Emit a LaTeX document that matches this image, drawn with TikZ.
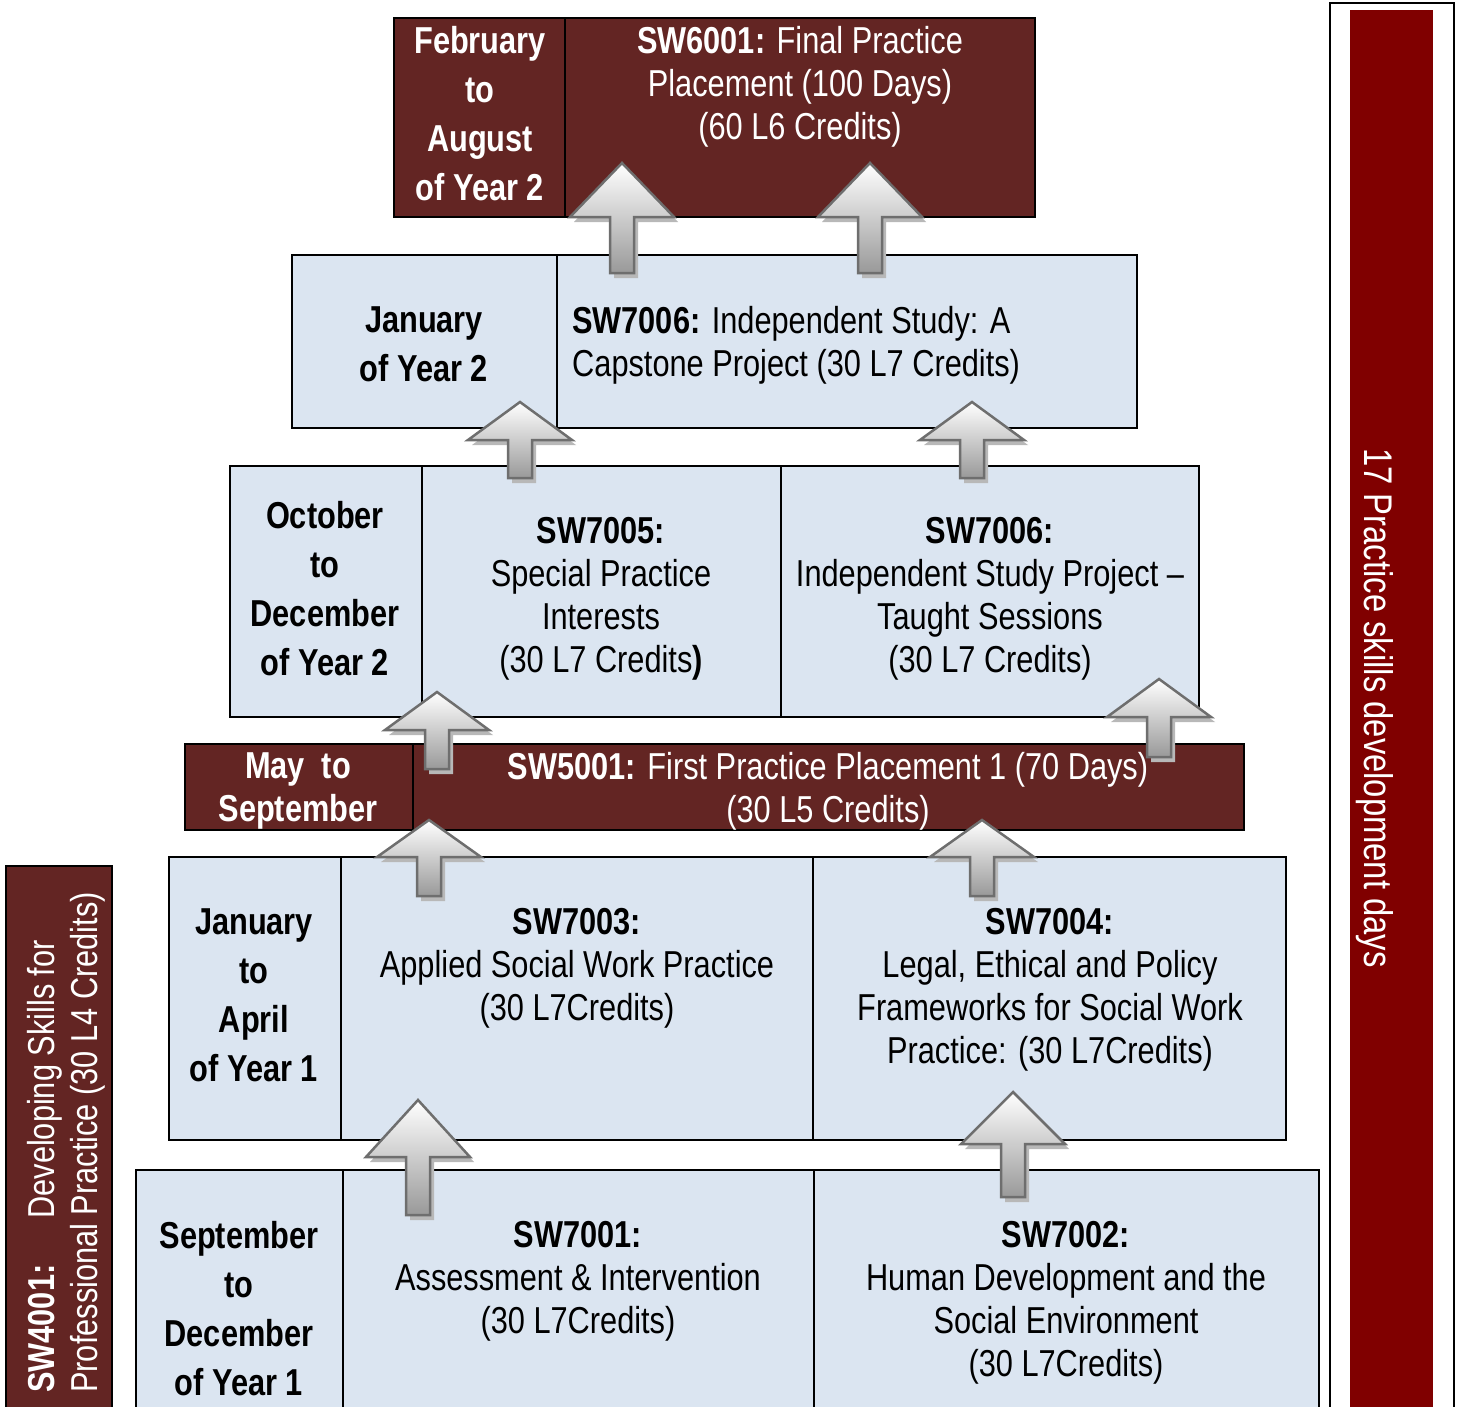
\documentclass[tikz,border=0pt]{standalone}
\usepackage{fontspec}
\setmainfont{Liberation Sans}[FakeStretch=0.82]
\usetikzlibrary{calc}
\definecolor{darkred}{HTML}{632523}
\definecolor{lightblue}{HTML}{DBE5F1}
\definecolor{maroonbar}{HTML}{800000}
\definecolor{arrline}{HTML}{6E6E6E}
\tikzset{
 cell/.style={draw=black, line width=2.5pt, anchor=north west, inner sep=0pt, outer sep=0pt},
 bluecell/.style={cell, fill=lightblue},
 redcell/.style={cell, fill=darkred},
 modtxt/.style={align=center, inner sep=0pt, anchor=north, font=\fontsize{37.5}{43}\selectfont},
 datetxt/.style={align=center, inner sep=0pt, anchor=north, font=\fontsize{37.5}{49}\selectfont\bfseries},
 whitetxt/.style={text=white},
 uparrow/.style={draw=arrline, line width=2.5pt, top color=white, bottom color=black!40, line join=miter},
 arrshadow/.style={fill=black!28},
}
\newcommand{\blockup}[4]{%
 \fill[arrshadow] (#1+4,#2+5) -- (#1+56,#3+5) -- (#1+16,#3+5) -- (#1+16,#4+5) -- (#1-8,#4+5) -- (#1-8,#3+5) -- (#1-48,#3+5) -- cycle;
 \draw[uparrow] (#1,#2) -- (#1+52,#3) -- (#1+12,#3) -- (#1+12,#4) -- (#1-12,#4) -- (#1-12,#3) -- (#1-52,#3) -- cycle;
}
\begin{document}
\begin{tikzpicture}[x=1pt,y=-1pt]
\useasboundingbox[fill=white] (0,0) rectangle (1458,1407);

% right panel
\node[draw=black, line width=2pt, anchor=north west, inner sep=0pt, minimum width=124pt, minimum height=1430pt] (rpanel) at (1329,2) {};
\node[fill=maroonbar, anchor=north west, inner sep=0pt, minimum width=83pt, minimum height=1420pt] (rbar) at (1350,10) {};
\node[rotate=-90, text=white, inner sep=0pt, font=\fontsize{40}{48}\selectfont] (rbtxt) at (1375,708) {17 Practice skills development days};

% left bar
\node[redcell, minimum width=106pt, minimum height=560pt] (lbar) at (6,866) {};
\node[rotate=90, text=white, align=left, anchor=west, inner sep=0pt, font=\fontsize{37.5}{43}\selectfont] (lbtxt) at (66,1393) {\textbf{SW4001:}\hspace{46pt}Developing Skills for\\Professional Practice (30 L4 Credits)};

% row 1
\node[redcell, minimum width=171pt, minimum height=199pt] (r1a) at (394,18) {};
\node[redcell, minimum width=470pt, minimum height=199pt] (r1b) at (565,18) {};
\node[datetxt, whitetxt] (t1a) at (480,26) {February\\to\\August\\of Year 2};
\node[modtxt, whitetxt] (t1b) at (800,26) {\textbf{SW6001:} Final Practice\\Placement (100 Days)\\(60 L6 Credits)};

% row 2
\node[bluecell, minimum width=265pt, minimum height=173pt] (r2a) at (292,255) {};
\node[bluecell, minimum width=580pt, minimum height=173pt] (r2b) at (557,255) {};
\node[datetxt] (t2a) at (424,306) {January\\of Year 2};
\node[modtxt, align=left, anchor=north west] (t2b) at (572,306) {\textbf{SW7006:} Independent Study: A\\Capstone Project (30 L7 Credits)};

% row 3
\node[bluecell, minimum width=192pt, minimum height=251pt] (r3a) at (230,466) {};
\node[bluecell, minimum width=359pt, minimum height=251pt] (r3b) at (422,466) {};
\node[bluecell, minimum width=418pt, minimum height=251pt] (r3c) at (781,466) {};
\node[datetxt] (t3a) at (325,501) {October\\to\\December\\of Year 2};
\node[modtxt] (t3b) at (601,517) {\textbf{SW7005:}\\Special Practice\\Interests\\(30 L7 Credits\textbf{)}};
\node[modtxt] (t3c) at (990,517) {\textbf{SW7006:}\\Independent Study Project –\\Taught Sessions\\(30 L7 Credits)};

% row 4
\node[redcell, minimum width=228pt, minimum height=86pt] (r4a) at (185,744) {};
\node[redcell, minimum width=831pt, minimum height=86pt] (r4b) at (413,744) {};
\node[modtxt, whitetxt, font=\fontsize{37.5}{43}\selectfont\bfseries] (t4a) at (298,752) {May\ \ to\\September};
\node[modtxt, whitetxt] (t4b) at (828,752) {\textbf{SW5001:} First Practice Placement 1 (70 Days)\\(30 L5 Credits)};

% row 5
\node[bluecell, minimum width=172pt, minimum height=283pt] (r5a) at (169,857) {};
\node[bluecell, minimum width=472pt, minimum height=283pt] (r5b) at (341,857) {};
\node[bluecell, minimum width=473pt, minimum height=283pt] (r5c) at (813,857) {};
\node[datetxt] (t5a) at (254,908) {January\\to\\April\\of Year 1};
\node[modtxt] (t5b) at (577,908) {\textbf{SW7003:}\\Applied Social Work Practice\\(30 L7Credits)};
\node[modtxt] (t5c) at (1050,908) {\textbf{SW7004:}\\Legal, Ethical and Policy\\Frameworks for Social Work\\Practice: (30 L7Credits)};

% row 6
\node[bluecell, minimum width=207pt, minimum height=260pt] (r6a) at (136,1170) {};
\node[bluecell, minimum width=471pt, minimum height=260pt] (r6b) at (343,1170) {};
\node[bluecell, minimum width=505pt, minimum height=260pt] (r6c) at (814,1170) {};
\node[datetxt] (t6a) at (239,1221) {September\\to\\December\\of Year 1};
\node[modtxt] (t6b) at (578,1221) {\textbf{SW7001:}\\Assessment \& Intervention\\(30 L7Credits)};
\node[modtxt] (t6c) at (1066,1221) {\textbf{SW7002:}\\Human Development and the\\Social Environment\\(30 L7Credits)};

% block arrows
\blockup{622}{163}{217}{273}
\blockup{870}{163}{217}{273}
\blockup{520}{402}{440}{478}
\blockup{972}{402}{440}{478}
\blockup{437}{692}{730}{769}
\blockup{1159}{679}{717}{757}
\blockup{429}{820}{857}{896}
\blockup{982}{820}{857}{896}
\blockup{418}{1100}{1157}{1215}
\blockup{1013}{1092}{1144}{1197}
\end{tikzpicture}
\end{document}
